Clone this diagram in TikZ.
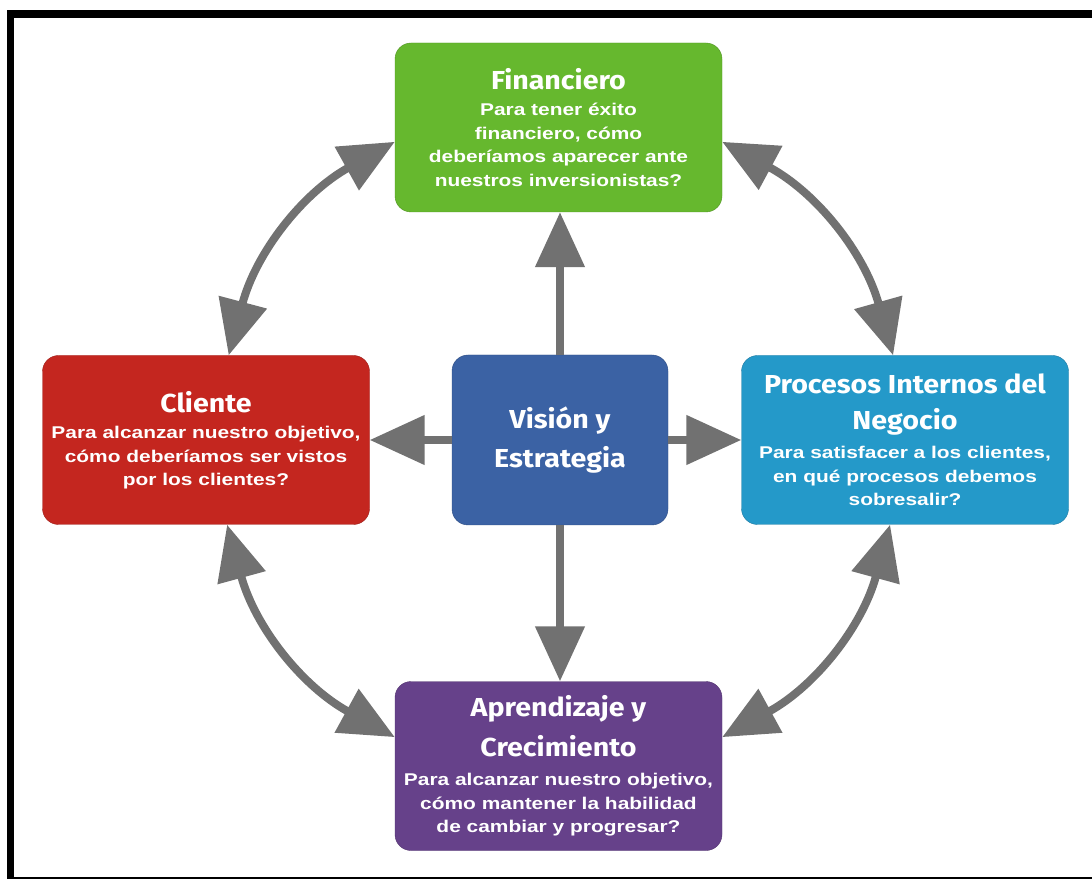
\documentclass[tikz,border=0pt]{standalone}
\usepackage{fontspec}
\setmainfont{Liberation Sans}[FakeStretch=1.23]
\newfontfamily\titlefont{Fira Sans}[FakeStretch=1.1]
\usetikzlibrary{arrows.meta}
\definecolor{fingreen}{HTML}{66B82E}
\definecolor{clired}{HTML}{C4261F}
\definecolor{visblue}{HTML}{3B62A4}
\definecolor{proccyan}{HTML}{2499C9}
\definecolor{aprpurple}{HTML}{66418A}
\definecolor{arrowgray}{HTML}{717171}
\newcommand\boxtitle[1]{{\titlefont\bfseries\fontsize{26}{37}\selectfont #1}}

\begin{document}
\begin{tikzpicture}[x=1pt,y=1pt]
        \tikzstyle{box}=[rectangle, rounded corners=16pt, minimum width=327pt, minimum height=169pt, inner sep=0pt, text=white, align=center, font=\bfseries\fontsize{17}{23.5}\selectfont]
        \tikzstyle{conn}=[draw=arrowgray, line width=8pt, -{Triangle[width=48pt,length=55pt]}]
        \tikzstyle{dbl}=[conn, {Triangle[width=48pt,length=55pt]}-{Triangle[width=48pt,length=55pt]}]
        \useasboundingbox (0,0) rectangle (1092,879);
        % frame
        \fill (7,0) rectangle (14,869);
        \fill (7,861) rectangle (1092,869);
        \fill (14,0) rectangle (1092,2.5);
        % boxes
        \node[box, fill=fingreen, draw=fingreen!80!black] (fin) at (558.5,751.5) {\boxtitle{Financiero}\\[3pt] Para tener éxito\\ financiero, cómo\\ deberíamos aparecer ante\\ nuestros inversionistas?};
        \node[box, fill=clired, draw=clired!80!black] (cli) at (206,439) {\boxtitle{Cliente}\\[3pt] Para alcanzar nuestro objetivo,\\ cómo deberíamos ser vistos\\ por los clientes?};
        \node[box, fill=visblue, draw=visblue!80!black, minimum width=216pt, minimum height=170pt] (vis) at (560,439) {\boxtitle{Visión y}\\[11pt] \boxtitle{Estrategia}};
        \node[box, fill=proccyan, draw=proccyan!80!black] (proc) at (905,439) {\boxtitle{Procesos Internos del}\\[12pt] \boxtitle{Negocio}\\[6pt] Para satisfacer a los clientes,\\ en qué procesos debemos\\ sobresalir?};
        \node[box, fill=aprpurple, draw=aprpurple!80!black, text depth=4pt] (apr) at (558.5,113) {\boxtitle{Aprendizaje y}\\[12pt] \boxtitle{Crecimiento}\\[6pt] Para alcanzar nuestro objetivo,\\ cómo mantener la habilidad\\ de cambiar y progresar?};
        % straight arrows
        \draw[conn] (vis.north) -- (vis.north |- fin.south);
        \draw[conn] (vis.west) -- (cli.east);
        \draw[conn] (vis.east) -- (proc.west);
        \draw[conn] (vis.south) -- (vis.south |- apr.north);
        % curved arrows
        \draw[dbl] (fin.185) to[bend right=23] (cli.75);
        \draw[dbl] (fin.-5) to[bend left=23] (proc.98);
        \draw[dbl] (cli.-76) to[bend right=23] (apr.170);
        \draw[dbl] (proc.-100) to[bend left=23] (apr.10);
\end{tikzpicture}
\end{document}
